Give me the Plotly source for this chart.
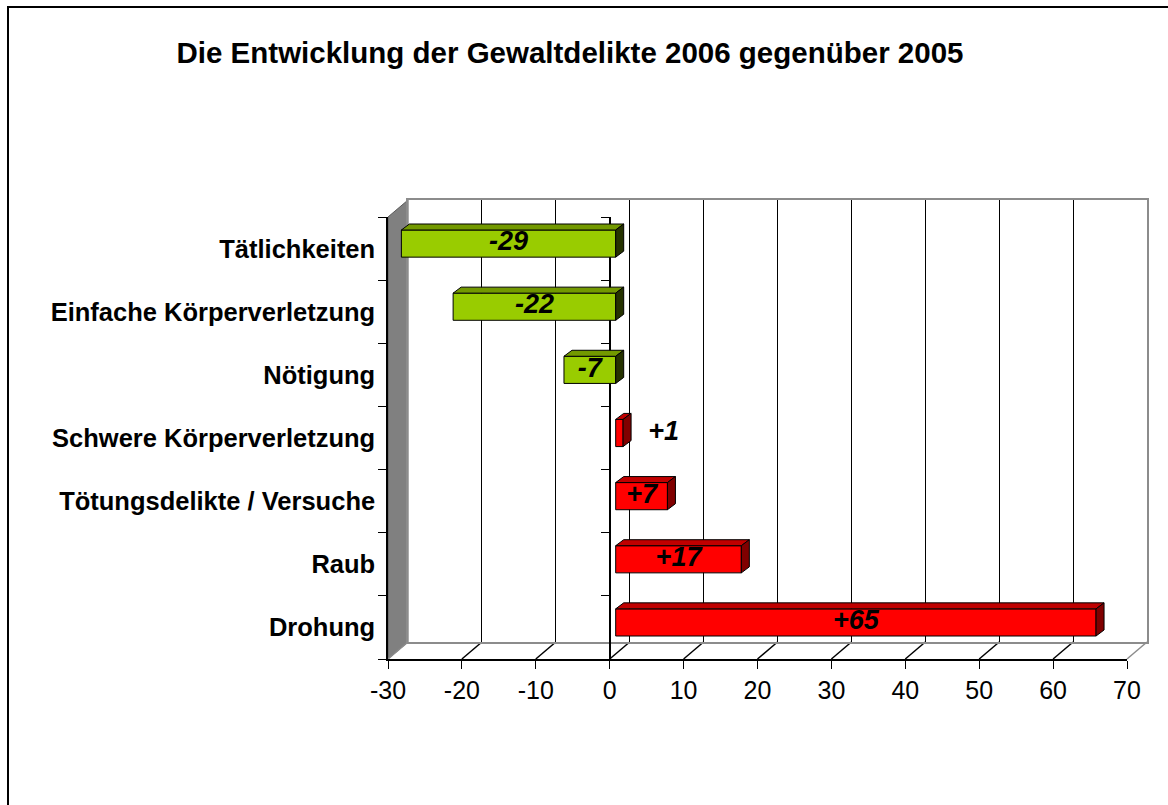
import plotly.graph_objects as go

# ── Data ─────────────────────────────────────────────────────────────────────

categories = [
    "Tätlichkeiten",
    "Einfache Körperverletzung",
    "Nötigung",
    "Schwere Körperverletzung",
    "Tötungsdelikte / Versuche",
    "Raub",
    "Drohung",
]
changes = [-29, -22, -7, 1, 7, 17, 65]
x_ticks = [-30, -20, -10, 0, 10, 20, 30, 40, 50, 60, 70]

TITLE = "Die Entwicklung der Gewaltdelikte 2006 gegenüber 2005"

# ── Style ────────────────────────────────────────────────────────────────────

W, H = 1168, 805
FONT = "Arial, Liberation Sans, sans-serif"
GREEN = dict(front="#99cc00", top="#739900", side="#263300")
RED = dict(front="#ff0000", top="#c00000", side="#800000")
WALL_GRAY = "#808080"
EDGE_GRAY = "#8c8c8c"

# Excel-like 3D box, pixel geometry of the front plane
FRONT_L, FRONT_R, FRONT_T, FRONT_B = 388, 1127, 217, 659
BACK_DX, BACK_DY = 20, -17      # back wall offset
BAR_DX, BAR_DY = 6, -5          # bar front face offset
DEPTH_DX, DEPTH_DY = 8, -6      # bar thickness
BAR_WIDTH = 0.43


def px(p):
    return p / W


def py(p):
    return 1 - p / H


n = len(categories)
x_min, x_max = x_ticks[0], x_ticks[-1]
unit_x = (FRONT_R - FRONT_L) / (x_max - x_min)
unit_y = (FRONT_B - FRONT_T) / n
pos = [n - 0.5 - i for i in range(n)]
bounds = list(range(n + 1))


def front_x(v):
    return FRONT_L + (v - x_min) * unit_x


fig = go.Figure()

# invisible anchors so the axis-only subplots get drawn
for xa, ya in (("x", "y"), ("x2", "y2"), ("x2", "y4")):
    fig.add_trace(go.Scatter(
        x=[x_min], y=[0], mode="markers", marker=dict(opacity=0),
        xaxis=xa, yaxis=ya, hoverinfo="skip", showlegend=False,
    ))

# front faces of the bars
colors = [GREEN if v < 0 else RED for v in changes]
fig.add_trace(go.Bar(
    x=changes, y=pos, orientation="h", width=BAR_WIDTH,
    marker=dict(color=[c["front"] for c in colors],
                line=dict(color="black", width=1)),
    xaxis="x3", yaxis="y3", hoverinfo="skip", showlegend=False,
))

# top and side faces
dxu = DEPTH_DX / unit_x
dyu = -DEPTH_DY / unit_y
for pal, keep in ((GREEN, lambda v: v < 0), (RED, lambda v: v >= 0)):
    tx, ty, sx, sy = [], [], [], []
    for v, p in zip(changes, pos):
        if not keep(v):
            continue
        x0, x1 = min(v, 0), max(v, 0)
        yt, yb = p + BAR_WIDTH / 2, p - BAR_WIDTH / 2
        tx += [x0, x1, x1 + dxu, x0 + dxu, x0, None]
        ty += [yt, yt, yt + dyu, yt + dyu, yt, None]
        sx += [x1, x1 + dxu, x1 + dxu, x1, x1, None]
        sy += [yb, yb + dyu, yt + dyu, yt, yb, None]
    for xs, ys, col in ((tx, ty, pal["top"]), (sx, sy, pal["side"])):
        fig.add_trace(go.Scatter(
            x=xs, y=ys, mode="lines", fill="toself", fillcolor=col,
            line=dict(color="black", width=1),
            xaxis="x3", yaxis="y3", hoverinfo="skip", showlegend=False,
        ))

# value labels
fig.add_trace(go.Scatter(
    x=[v / 2 if abs(v) > 3 else v + 5.5 for v in changes], y=pos,
    mode="text", text=[f"{v:+d}" for v in changes],
    textfont=dict(family=FONT, size=27, color="black",
                  weight="bold", style="italic"),
    xaxis="x3", yaxis="y3", hoverinfo="skip", showlegend=False,
))

# ── Walls, floor and border ──────────────────────────────────────────────────

shapes = []
wall = [(FRONT_L, FRONT_T), (FRONT_L + BACK_DX, FRONT_T + BACK_DY),
        (FRONT_L + BACK_DX, FRONT_B + BACK_DY), (FRONT_L, FRONT_B)]
path = "M " + " L ".join(f"{px(a):.5f},{py(b):.5f}" for a, b in wall) + " Z"
shapes.append(dict(type="path", path=path, xref="paper", yref="paper",
                   fillcolor=WALL_GRAY, line=dict(color="#5a5a5a", width=1),
                   layer="below"))
for v in x_ticks:
    xa = front_x(v)
    shapes.append(dict(
        type="line", xref="paper", yref="paper", layer="below",
        x0=px(xa), y0=py(FRONT_B),
        x1=px(xa + BACK_DX), y1=py(FRONT_B + BACK_DY),
        line=dict(color="black" if x_min < v < x_max else EDGE_GRAY, width=1.5),
    ))
shapes.append(dict(type="rect", xref="paper", yref="paper",
                   x0=px(8), y0=-0.1, x1=1.1, y1=py(7),
                   line=dict(color="black", width=2)))

axis_off = dict(showgrid=False, zeroline=False, fixedrange=True,
                automargin=False)

fig.update_layout(
    width=W, height=H, autosize=False,
    margin=dict(l=0, r=0, t=0, b=0, pad=0, autoexpand=False),
    paper_bgcolor="white", plot_bgcolor="rgba(0,0,0,0)",
    showlegend=False, shapes=shapes,
    title=dict(text=TITLE, x=px(570), y=py(53), xref="paper", yref="paper",
               xanchor="center", yanchor="middle", automargin=False,
               font=dict(family=FONT, size=29.5, color="black", weight="bold")),
    # back wall with grid
    xaxis=dict(domain=[px(FRONT_L + BACK_DX), px(FRONT_R + BACK_DX)],
               range=[x_min, x_max], tickvals=x_ticks[1:-1],
               showgrid=True, gridcolor="black", gridwidth=1,
               showticklabels=False, ticks="", zeroline=False,
               showline=True, linecolor=EDGE_GRAY, linewidth=2, mirror=True,
               anchor="y", fixedrange=True, automargin=False),
    yaxis=dict(domain=[py(FRONT_B + BACK_DY), py(FRONT_T + BACK_DY)],
               range=[0, n], showticklabels=False, ticks="",
               showline=True, linecolor=EDGE_GRAY, linewidth=2, mirror=True,
               anchor="x", **axis_off),
    # front axes
    xaxis2=dict(domain=[px(FRONT_L), px(FRONT_R)], range=[x_min, x_max],
                tickvals=x_ticks, ticktext=[str(t) for t in x_ticks],
                ticks="outside", ticklen=8,
                tickcolor="black", showline=True, linecolor="black",
                linewidth=1.5, anchor="y2",
                tickfont=dict(family=FONT, size=25, color="black"),
                **axis_off),
    yaxis2=dict(domain=[py(FRONT_B), py(FRONT_T)], range=[0, n],
                tickvals=pos, ticktext=categories, ticks="",
                minor=dict(tickvals=bounds, ticks="outside",
                           ticklen=8, tickcolor="black"),
                showline=True, linecolor="black", linewidth=1.5,
                ticklabelstandoff=6, anchor="x2",
                tickfont=dict(family=FONT, size=25.5, color="black",
                              weight="bold"),
                **axis_off),
    yaxis4=dict(overlaying="y2", anchor="free", position=px(front_x(0)),
                side="left", range=[0, n], tickvals=bounds,
                ticks="outside", ticklen=8, tickcolor="black",
                showticklabels=False, showline=True, linecolor="black",
                linewidth=1.5, **axis_off),
    # bar plane
    xaxis3=dict(domain=[px(FRONT_L + BAR_DX), px(FRONT_R + BAR_DX)],
                range=[x_min, x_max], visible=False, anchor="y3", **axis_off),
    yaxis3=dict(domain=[py(FRONT_B + BAR_DY), py(FRONT_T + BAR_DY)],
                range=[0, n], visible=False, anchor="x3", **axis_off),
)

# drop the browser's default body margin so the figure fills the window
fig.write_html(
    "out.html",
    config=dict(displayModeBar=False),
    post_script="document.body.style.margin='0';"
                "document.body.style.overflow='hidden';",
)
